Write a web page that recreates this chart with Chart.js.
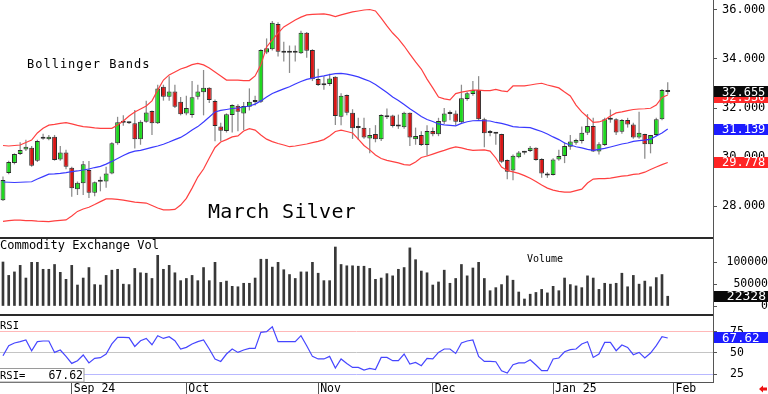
<!DOCTYPE html>
<html><head><meta charset="utf-8">
<script src="https://cdn.jsdelivr.net/npm/chart.js@4/dist/chart.umd.min.js"></script>
<style>
html,body{margin:0;padding:0;background:#fff;overflow:hidden}
#wrap{position:relative;width:768px;height:394px;background:#fff}
canvas{position:absolute;left:0;display:block}
</style></head><body>
<div id="wrap">
<canvas id="cPrice" width="768" height="237" style="top:0"></canvas>
<canvas id="cVol" width="768" height="79" style="top:237px"></canvas>
<canvas id="cRsi" width="768" height="78" style="top:316px"></canvas>
</div>
<script>
// ---------- DATA ----------
const monthTickIndex = [12, 32, 55, 75, 96, 117];
const monthTickLabels = ['Sep 24', 'Oct', 'Nov', 'Dec', 'Jan 25', 'Feb'];
const priceTicks = [28, 30, 32, 34, 36];
const volumeTicks = [0, 50000, 100000];
const rsiTicks = [25, 50, 75];

const opens = [28.24,29.35,29.76,30.12,30.31,30.38,29.85,30.79,30.72,30.83,
29.90,30.18,29.56,28.68,28.93,29.47,28.54,28.99,29.00,29.33,
30.56,31.45,31.42,31.38,30.72,31.44,31.88,31.38,32.87,32.46,
32.67,32.26,31.78,31.71,32.46,32.64,32.83,32.29,31.24,31.06,
31.71,32.09,31.78,32.05,32.29,32.26,34.27,34.40,35.43,34.30,
34.28,34.25,34.23,35.07,34.37,33.18,32.93,32.98,33.28,31.64,
32.53,31.81,31.18,31.19,30.76,30.94,30.72,31.62,31.69,31.33,
31.21,31.81,30.72,30.90,30.49,31.06,30.93,31.44,31.76,31.78,
31.42,32.37,32.57,32.73,31.54,30.98,30.97,30.94,29.88,29.45,
29.99,30.17,30.24,30.38,29.92,29.33,29.27,29.90,30.04,30.42,
30.58,30.65,30.99,31.27,30.22,30.49,31.52,31.54,31.03,31.51,
31.33,30.80,30.94,30.52,30.90,31.54,32.73];
const highs = [29.20,29.85,30.15,30.60,30.70,30.45,30.70,30.95,30.90,30.90,
30.45,30.30,29.60,29.00,29.84,29.84,29.00,29.20,29.60,30.60,
31.64,31.70,31.45,31.92,31.50,32.30,31.90,32.95,32.95,33.30,
32.95,32.45,32.50,33.10,32.95,33.55,32.85,32.35,31.40,31.78,
32.15,32.15,32.25,32.80,32.50,34.40,34.84,35.55,35.50,34.70,
34.55,34.55,35.15,35.10,34.40,33.60,33.30,33.40,33.30,32.60,
32.55,31.95,31.60,31.60,31.18,31.30,31.75,31.98,31.72,31.73,
31.85,31.82,31.20,31.05,31.30,31.20,31.60,32.00,31.90,31.90,
32.95,32.65,33.10,33.30,31.60,31.10,31.00,30.95,29.90,30.10,
30.25,30.25,30.45,30.40,29.95,29.38,29.95,30.30,30.60,30.90,
30.75,31.25,31.75,31.60,30.60,31.60,31.94,31.58,31.55,31.60,
31.40,31.85,30.95,30.90,31.60,32.78,33.05];
const lows = [28.20,29.30,29.70,30.08,30.25,29.60,29.80,30.70,30.68,29.85,
29.85,29.50,28.38,28.45,28.45,28.33,28.40,28.60,28.75,29.30,
30.50,31.28,31.35,30.35,30.50,31.40,30.90,31.35,32.30,32.30,
32.00,31.70,31.70,31.60,32.35,31.70,32.20,30.64,30.64,31.00,
31.00,31.05,31.10,31.90,32.10,32.20,34.20,34.35,34.10,33.90,
33.43,33.90,34.20,34.05,33.10,32.90,32.75,32.90,31.31,31.30,
31.70,30.74,30.69,30.75,30.15,30.60,30.65,31.55,31.20,31.15,
31.15,30.45,30.50,30.45,30.05,30.85,30.85,31.35,31.50,31.30,
31.35,32.30,32.50,31.50,30.40,30.85,30.50,29.75,29.09,29.05,
29.95,30.10,30.20,29.85,29.15,29.15,29.25,29.85,29.75,30.30,
30.50,30.55,30.90,30.20,30.10,30.45,31.40,30.90,30.95,31.20,
30.75,30.75,29.93,30.15,30.85,31.50,32.55];
const closes = [29.06,29.80,30.12,30.29,30.42,29.64,30.65,30.75,30.83,29.88,
30.18,29.60,28.72,28.95,29.70,28.54,28.97,29.06,29.33,30.56,
31.42,31.40,31.38,30.72,31.44,31.82,31.38,32.80,32.46,32.67,
32.05,31.74,32.00,32.44,32.67,32.83,32.33,31.27,31.07,31.74,
32.12,31.85,32.08,32.26,32.25,34.37,34.44,35.48,34.30,34.25,
34.25,34.29,35.07,34.34,33.17,32.94,32.97,33.20,31.67,32.50,
31.81,31.17,31.22,30.80,30.90,30.72,31.71,31.69,31.27,31.24,
31.81,30.80,30.86,30.49,31.06,30.93,31.47,31.78,31.80,31.44,
32.40,32.60,32.73,31.54,30.97,31.00,30.95,29.81,29.40,30.05,
30.18,30.21,30.38,29.88,29.33,29.24,29.90,30.04,30.45,30.63,
30.69,30.99,31.27,30.22,30.52,31.54,31.56,31.00,31.51,31.33,
30.80,30.99,30.52,30.90,31.54,32.73,32.655];

const bbUpper = [30.47,30.45,30.47,30.49,30.59,30.69,30.98,31.17,31.30,31.33,
31.37,31.40,31.35,31.29,31.24,31.22,31.19,31.17,31.17,31.17,
31.31,31.47,31.67,31.84,31.96,32.08,32.29,32.73,33.14,33.35,
33.47,33.59,33.67,33.77,33.82,33.76,33.63,33.47,33.31,33.14,
33.14,33.14,33.12,33.12,33.31,33.76,34.49,34.78,35.06,35.31,
35.45,35.59,35.71,35.80,35.82,35.83,35.84,35.80,35.73,35.80,
35.86,35.92,35.96,36.00,36.02,35.96,35.67,35.35,35.06,34.82,
34.53,34.20,33.88,33.59,33.18,32.82,32.45,32.37,32.33,32.59,
32.65,32.69,32.73,32.73,32.71,32.71,32.76,32.70,32.67,32.90,
32.90,32.90,32.94,32.98,33.01,32.94,32.88,32.82,32.65,32.49,
32.12,31.84,31.63,31.41,31.43,31.51,31.67,31.80,31.84,31.89,
31.94,31.96,31.97,31.99,32.12,32.43,32.53];
const bbMiddle = [28.98,28.97,28.96,28.97,28.98,28.99,29.10,29.20,29.30,29.31,
29.33,29.36,29.40,29.43,29.47,29.51,29.57,29.62,29.71,29.82,
29.94,30.06,30.17,30.24,30.27,30.33,30.39,30.45,30.52,30.61,
30.71,30.80,30.94,31.10,31.24,31.43,31.63,31.84,31.90,31.94,
31.98,32.00,32.04,32.08,32.16,32.29,32.45,32.59,32.69,32.78,
32.87,32.98,33.08,33.17,33.22,33.27,33.31,33.36,33.40,33.41,
33.38,33.33,33.27,33.18,33.09,32.96,32.80,32.63,32.45,32.31,
32.14,31.97,31.82,31.65,31.53,31.45,31.35,31.31,31.29,31.27,
31.37,31.44,31.48,31.49,31.48,31.47,31.41,31.37,31.31,31.24,
31.22,31.21,31.20,31.12,31.04,30.94,30.82,30.71,30.57,30.49,
30.42,30.37,30.31,30.27,30.31,30.35,30.41,30.47,30.53,30.57,
30.64,30.67,30.69,30.73,30.86,30.98,31.139];
const bbLower = [27.37,27.40,27.42,27.42,27.40,27.40,27.38,27.37,27.36,27.39,
27.41,27.43,27.59,27.78,27.88,27.95,28.06,28.18,28.29,28.29,
28.27,28.24,28.20,28.16,28.14,28.12,28.02,27.92,27.84,27.84,
27.86,28.04,28.31,28.73,29.18,29.51,29.96,30.39,30.61,30.71,
30.82,30.86,31.06,31.16,31.10,30.90,30.73,30.63,30.55,30.49,
30.42,30.45,30.49,30.53,30.59,30.64,30.71,30.86,31.04,31.10,
31.04,30.98,30.73,30.47,30.29,30.08,29.94,29.86,29.81,29.76,
29.69,29.67,29.80,29.98,30.04,30.12,30.20,30.27,30.35,30.41,
30.37,30.31,30.27,30.28,30.29,30.24,29.96,29.59,29.45,29.39,
29.33,29.24,29.13,29.00,28.86,28.73,28.65,28.60,28.57,28.57,
28.63,28.69,28.94,29.10,29.12,29.12,29.14,29.18,29.22,29.24,
29.29,29.31,29.38,29.49,29.59,29.69,29.778];

const volume = [100700,70000,78000,93000,64000,100000,100000,84000,84000,95000,
77000,61000,93000,48000,64000,88000,49000,48000,70000,82000,
84000,50000,49000,86000,76000,75000,63000,116000,84000,93000,
76000,58000,63000,70000,58000,88000,58000,100000,54000,57000,
45000,44000,52000,52000,64000,107000,107000,89000,100000,83000,
72000,63000,78000,78000,100000,75000,58000,58000,135000,95000,
92000,92000,91000,91000,86000,61000,64000,74000,69000,84000,
88000,133000,106000,80000,76000,48000,55000,82000,52000,63000,
95000,69000,87000,100000,63000,35000,42000,49000,69000,59000,
32000,16000,27000,31000,38000,30000,45000,35000,64000,49000,
46000,42000,69000,64000,38000,52000,50000,52000,75000,44000,
70000,50000,57000,44000,65000,72000,22328];

const rsi = [46.8,58.6,61.7,63.3,65.3,52.7,63.3,64.1,64.1,50.7,
53.5,46.0,37.8,41.0,47.7,38.3,43.7,44.5,48.8,60.6,
68.3,68.3,68.0,57.7,64.4,67.1,59.7,70.3,67.1,69.1,
64.4,54.7,56.6,60.6,63.3,65.3,54.7,43.0,40.1,48.8,
54.7,50.7,53.5,55.4,55.4,74.2,75.0,80.9,63.3,63.3,
63.3,63.3,70.3,58.6,46.0,43.0,43.0,46.0,32.4,43.0,
37.8,33.1,33.1,30.0,31.9,30.5,44.8,44.8,41.0,41.0,
48.8,37.1,39.0,35.1,43.7,43.0,50.7,54.7,54.7,49.5,
61.7,64.1,65.3,46.0,40.1,40.1,39.7,29.2,26.5,36.3,
38.3,38.3,42.1,35.9,29.2,29.2,43.0,44.1,51.5,53.9,
54.7,60.6,63.3,44.8,48.8,62.4,62.4,52.7,59.4,56.6,
48.0,50.7,44.1,50.0,58.6,69.1,67.62];

// ---------- SETUP ----------
const MONO = '"DejaVu Sans Mono", "Liberation Mono", monospace';
Chart.defaults.font.family = MONO;
Chart.defaults.color = '#000';
const N = closes.length;
const last = N - 1;
const idx = [...Array(N).keys()];
const pts = arr => arr.map((v, i) => ({x: i, y: v}));
const X_MIN = -0.52, X_MAX = 123.9;
const GREEN = '#1fd81f', RED = '#d81616';

function xScale(display) {
  return {
    type: 'linear', min: X_MIN, max: X_MAX, offset: false, display: display,
    afterFit: s => { if (display) { s.height = 12; } s.paddingLeft = 0; s.paddingRight = 0; }
  };
}
function rightAxis(min, max, ticks, extra) {
  return Object.assign({
    position: 'right', min: min, max: max,
    afterBuildTicks: s => { s.ticks = ticks.map(v => ({value: v})); },
    afterFit: s => { s.width = 55; s.paddingTop = 0; s.paddingBottom = 0; },
    border: {display: true, color: '#555', width: 1},
    grid: {drawOnChartArea: false, tickLength: 4, color: '#555'},
    ticks: {padding: 5, font: {family: MONO, size: 12}, color: '#000'}
  }, extra || {});
}
function valueBox(ctx, y, color, text, size, alignRight) {
  ctx.fillStyle = color;
  ctx.fillRect(714, Math.round(y - 5.5), 54, 11);
  ctx.fillStyle = '#fff';
  ctx.font = size + 'px ' + MONO;
  ctx.textBaseline = 'middle';
  if (alignRight) { ctx.textAlign = 'right'; ctx.fillText(text, 766, y + 0.5); }
  else { ctx.textAlign = 'left'; ctx.fillText(text, 722, y + 0.5); }
  ctx.textAlign = 'left';
}

const baseOpts = {
  responsive: false, animation: false, events: [],
  layout: {padding: 0},
  plugins: {legend: {display: false}, tooltip: {enabled: false}, title: {display: false}}
};

// ---------- PRICE PANEL ----------
const pricePlugin = {
  id: 'priceDecor',
  afterDraw(chart) {
    const ctx = chart.ctx, y = chart.scales.y;
    ctx.save();
    ctx.fillStyle = '#000';
    ctx.textBaseline = 'alphabetic';
    ctx.font = '12px ' + MONO;
    ctx.letterSpacing = '1px';
    ctx.fillText('Bollinger Bands', 27, 67.5);
    ctx.font = '20px ' + MONO;
    ctx.letterSpacing = '0.3px';
    ctx.fillText('March Silver', 208, 218);
    ctx.letterSpacing = '0px';
    valueBox(ctx, y.getPixelForValue(bbUpper[last]) + 2, '#ff2a2a', bbUpper[last].toFixed(3), 12);
    valueBox(ctx, y.getPixelForValue(closes[last]), '#0a0a0a', closes[last].toFixed(3), 12);
    valueBox(ctx, y.getPixelForValue(bbMiddle[last]), '#1c1cff', bbMiddle[last].toFixed(3), 12);
    valueBox(ctx, y.getPixelForValue(bbLower[last]), '#ff2424', bbLower[last].toFixed(3), 12);
    ctx.restore();
  }
};

new Chart(document.getElementById('cPrice'), {
  type: 'bar',
  data: {datasets: [
    {type: 'line', data: pts(bbUpper), borderColor: '#ff4040', borderWidth: 1.2, pointRadius: 0, order: 1},
    {type: 'line', data: pts(bbMiddle), borderColor: '#3a3aff', borderWidth: 1.2, pointRadius: 0, order: 1},
    {type: 'line', data: pts(bbLower), borderColor: '#ff4040', borderWidth: 1.2, pointRadius: 0, order: 1},
    {data: idx.map(i => ({x: i, y: [lows[i], highs[i]]})), backgroundColor: '#8c8c8c',
     grouped: false, categoryPercentage: 1, barPercentage: 0.22, order: 3},
    {data: idx.map(i => ({x: i, y: [opens[i], closes[i]]})),
     backgroundColor: c => closes[c.dataIndex] >= opens[c.dataIndex] ? GREEN : RED,
     borderColor: '#2e2e2e', borderWidth: 1, borderSkipped: false, minBarLength: 2,
     grouped: false, categoryPercentage: 1, barPercentage: 0.85, order: 2}
  ]},
  options: Object.assign({}, baseOpts, {
    scales: {
      x: xScale(false),
      y: rightAxis(26.735, 36.408, priceTicks, {ticks: {padding: 5, font: {family: MONO, size: 12}, color: '#000', callback: v => v.toFixed(3)}})
    }
  }),
  plugins: [pricePlugin]
});

// ---------- VOLUME PANEL ----------
const volPlugin = {
  id: 'volDecor',
  afterDraw(chart) {
    const ctx = chart.ctx, y = chart.scales.y, a = chart.chartArea;
    ctx.save();
    ctx.strokeStyle = '#2a2a2a'; ctx.lineWidth = 2;
    ctx.beginPath();
    ctx.moveTo(0, 1); ctx.lineTo(a.right, 1);
    ctx.moveTo(0, 78); ctx.lineTo(a.right, 78);
    ctx.stroke();
    ctx.fillStyle = '#000';
    ctx.textBaseline = 'alphabetic';
    ctx.font = '12px ' + MONO;
    ctx.fillText('Commodity Exchange Vol', 0, 12);
    ctx.font = '10px ' + MONO;
    ctx.fillText('Volume', 527, 25);
    valueBox(ctx, y.getPixelForValue(volume[last]), '#0a0a0a', String(volume[last]), 13, true);
    ctx.restore();
  }
};

new Chart(document.getElementById('cVol'), {
  type: 'bar',
  data: {datasets: [
    {data: pts(volume), backgroundColor: '#383838', barThickness: 2}
  ]},
  options: Object.assign({}, baseOpts, {
    scales: {
      x: xScale(false),
      y: rightAxis(-22883, 157895, volumeTicks, {ticks: {padding: 5, crossAlign: 'far', font: {family: MONO, size: 11.5}, color: '#000', callback: v => String(v)}})
    }
  }),
  plugins: [volPlugin]
});

// ---------- RSI PANEL ----------
const rsiPlugin = {
  id: 'rsiDecor',
  afterDraw(chart) {
    const ctx = chart.ctx, y = chart.scales.y;
    ctx.save();
    ctx.fillStyle = '#000';
    ctx.textBaseline = 'alphabetic';
    ctx.font = '10.5px ' + MONO;
    ctx.fillText('RSI', 0, 12.5);
    ctx.fillStyle = '#fff';
    ctx.fillRect(0, 52, 84, 14);
    ctx.strokeStyle = '#9a9a9a'; ctx.lineWidth = 1;
    ctx.strokeRect(-0.5, 52.5, 84.5, 13.5);
    ctx.fillStyle = '#000';
    ctx.font = '10.5px ' + MONO;
    ctx.fillText('RSI=', 0, 62.5);
    ctx.font = '11.5px ' + MONO;
    ctx.textAlign = 'right';
    ctx.fillText(rsi[last].toFixed(2), 83, 62.5);
    ctx.textAlign = 'left';
    valueBox(ctx, y.getPixelForValue(rsi[last]), '#1c1cff', rsi[last].toFixed(2), 12.5);
    ctx.fillStyle = '#ee1111';
    ctx.beginPath();
    ctx.moveTo(759, 73); ctx.lineTo(763, 69.5); ctx.lineTo(763, 71.5); ctx.lineTo(767, 71.5);
    ctx.lineTo(767, 74.5); ctx.lineTo(763, 74.5); ctx.lineTo(763, 76.5); ctx.closePath();
    ctx.fill();
    ctx.restore();
  }
};

const rsiGridColor = c => {
  const v = c.tick && c.tick.value;
  if (v === 75) return '#ffb8b8';
  if (v === 50) return '#c4c4c4';
  return '#b8b8ff';
};

new Chart(document.getElementById('cRsi'), {
  type: 'line',
  data: {datasets: [
    {data: pts(rsi), borderColor: '#4646ff', borderWidth: 1.2, pointRadius: 0, tension: 0}
  ]},
  options: Object.assign({}, baseOpts, {
    scales: {
      x: Object.assign(xScale(true), {
        afterBuildTicks: s => { s.ticks = monthTickIndex.map(v => ({value: v})); },
        border: {display: true, color: '#555', width: 1},
        grid: {drawOnChartArea: false, drawTicks: true, tickLength: 12, color: '#555'},
        ticks: {align: 'start', padding: -12, labelOffset: 2, autoSkip: false, maxRotation: 0, minRotation: 0,
                font: {family: MONO, size: 11.5}, color: '#000',
                callback: (v, i) => monthTickLabels[i]}
      }),
      y: rightAxis(15.96, 93.43, rsiTicks, {
        grid: {drawOnChartArea: true, tickLength: 4, color: rsiGridColor, tickColor: '#555'},
        ticks: {padding: 13, font: {family: MONO, size: 11.5}, color: '#000'}
      })
    }
  }),
  plugins: [rsiPlugin]
});
</script>
</body></html>
